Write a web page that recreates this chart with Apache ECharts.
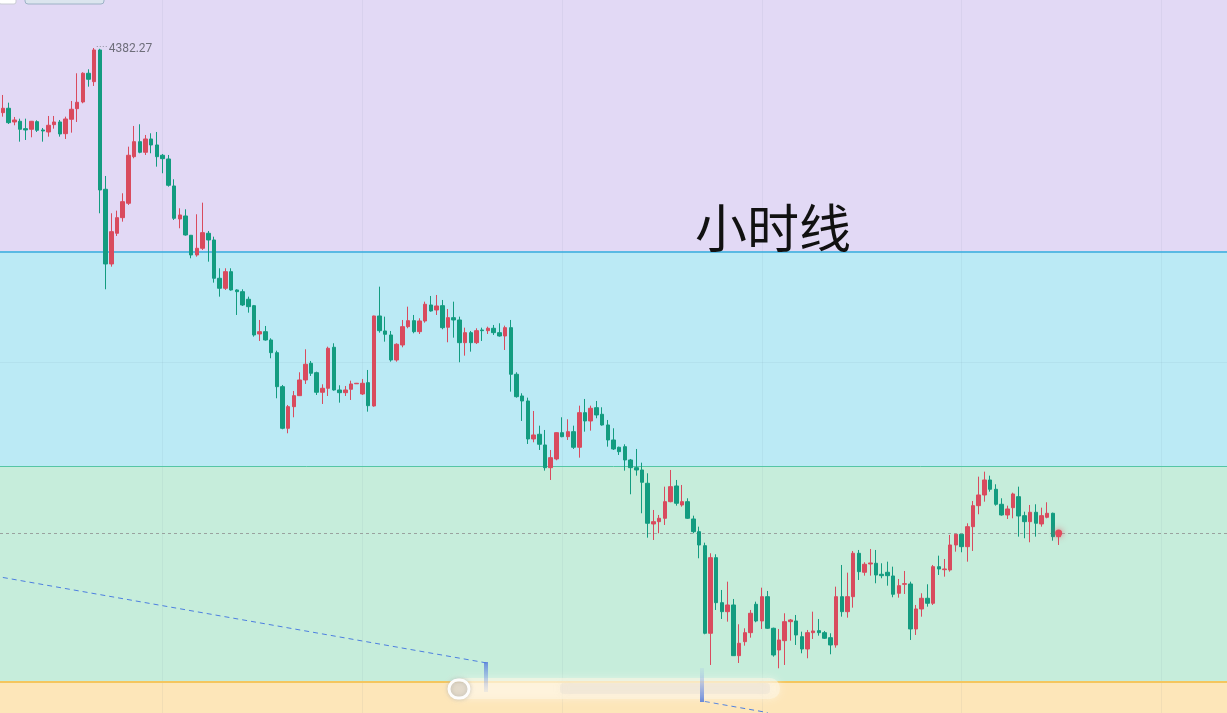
<!DOCTYPE html>
<html><head><meta charset="utf-8">
<script src="https://cdn.jsdelivr.net/npm/echarts@6/dist/echarts.min.js"></script>
<style>html,body{margin:0;padding:0;background:#fff;overflow:hidden}#c{width:1227px;height:713px}</style>
</head><body><div id="c"></div><script>
// Hourly candles
const opens = [4317.6,4322.0,4308.3,4309.0,4301.6,4301.0,4308.6,4300.3,4298.3,4305.6,4308.3,4296.6,4311.0,4321.6,4328.3,4357.0,4348.6,4380.3,4241.0,4166.3,
4197.0,4212.6,4227.0,4273.6,4288.6,4278.0,4291.3,4285.3,4275.0,4271.3,4244.3,4211.3,4214.3,4195.0,4175.3,4182.0,4197.0,4190.3,4152.0,4142.0,
4158.6,4140.3,4138.6,4131.0,4124.6,4096.3,4098.6,4090.3,4077.6,4043.6,4002.0,4023.6,4034.6,4050.3,4067.0,4057.6,4038.0,4042.0,4083.0,4040.3,
4037.6,4041.0,4046.5,4036.3,4047.6,4024.3,4114.3,4099.3,4095.3,4070.3,4085.3,4103.6,4109.6,4098.6,4109.3,4125.3,4120.3,4124.6,4103.0,4112.6,
4110.3,4087.6,4097.6,4087.6,4100.3,4099.6,4102.0,4097.6,4094.3,4102.6,4056.0,4034.3,4029.3,3991.3,3996.0,3985.3,3962.6,3971.3,3997.6,3993.6,
3998.6,3983.0,4017.6,4009.3,4022.6,4016.0,4005.3,3990.3,3983.0,3983.6,3970.3,3962.6,3960.3,3947.0,3906.3,3908.6,3912.0,3928.6,3944.3,3925.3,
3928.6,3911.3,3898.6,3884.6,3797.0,3872.6,3827.6,3818.6,3825.3,3774.6,3788.6,3797.6,3826.0,3809.3,3833.6,3802.0,3780.3,3789.6,3808.6,3809.3,
3793.6,3781.3,3797.6,3799.6,3797.6,3792.6,3785.3,3833.6,3818.6,3833.6,3877.0,3858.0,3866.3,3867.0,3856.0,3858.0,3854.3,3837.0,3846.0,3846.3,
3801.3,3821.3,3832.0,3827.0,3863.6,3860.6,3860.3,3885.3,3896.0,3883.6,3903.6,3924.6,3935.3,3950.3,3941.0,3926.0,3915.3,3922.6,3933.6,3914.6,
3908.6,3918.0,3906.3,3913.0,3917.0,3893.6];
const closes = [4322.0,4307.6,4310.3,4301.0,4300.3,4309.0,4300.0,4299.3,4305.0,4308.3,4296.3,4311.3,4321.0,4328.0,4357.0,4351.0,4380.3,4240.3,4166.3,4198.6,
4212.6,4228.6,4275.0,4288.6,4278.0,4291.3,4285.3,4273.6,4271.6,4245.0,4212.0,4215.3,4195.3,4175.3,4182.0,4197.6,4190.3,4152.0,4142.0,4158.6,
4140.3,4138.6,4125.3,4123.6,4095.3,4098.6,4090.3,4077.6,4043.6,4002.0,4023.6,4034.6,4050.3,4066.0,4057.0,4038.0,4042.0,4082.0,4040.3,4037.6,
4040.3,4046.3,4047.0,4047.0,4024.6,4114.3,4099.6,4096.0,4070.3,4086.0,4103.6,4109.6,4098.6,4109.3,4126.0,4119.3,4124.3,4102.6,4112.6,4110.3,
4087.6,4097.6,4087.6,4099.6,4099.6,4102.0,4097.6,4094.3,4102.6,4056.0,4033.6,4029.3,3991.3,3995.3,3986.0,3962.6,3972.6,3997.6,3993.6,3998.6,
3983.0,4017.6,4009.3,4022.0,4015.3,4005.3,3990.3,3981.3,3978.6,3970.3,3962.6,3960.3,3948.0,3907.0,3908.6,3912.0,3928.6,3943.6,3927.0,3928.6,
3912.0,3898.6,3885.3,3797.0,3872.6,3827.6,3818.6,3825.3,3774.6,3787.0,3797.6,3817.0,3809.3,3833.6,3802.0,3775.3,3790.3,3808.6,3810.3,3795.3,
3781.3,3797.6,3799.3,3797.6,3792.0,3785.3,3833.6,3818.6,3833.6,3877.0,3858.6,3866.0,3867.3,3855.3,3854.6,3854.6,3836.0,3844.6,3846.6,3801.3,
3821.3,3832.0,3827.0,3863.6,3861.3,3861.3,3885.3,3896.0,3883.6,3903.6,3924.6,3935.3,3950.3,3941.0,3926.0,3915.3,3921.3,3936.3,3914.3,3908.6,
3918.0,3907.0,3914.6,3917.0,3893.6,3897.3];
const lows = [4313.6,4306.3,4305.0,4288.6,4290.3,4293.0,4298.3,4288.6,4293.6,4301.6,4293.6,4291.3,4297.6,4308.3,4327.0,4343.6,4344.3,4217.0,4141.0,4163.6,
4194.3,4208.6,4225.3,4272.0,4277.0,4275.3,4277.0,4263.6,4257.0,4243.6,4210.3,4202.0,4194.6,4172.0,4173.6,4180.3,4168.6,4147.6,4133.6,4140.3,
4139.6,4115.3,4124.3,4117.6,4093.6,4089.3,4089.6,4072.0,4032.0,4001.0,3997.0,4013.0,4034.3,4046.3,4054.3,4035.3,4026.3,4034.3,4039.6,4027.6,
4034.3,4030.3,4046.3,4035.3,4018.6,4023.6,4097.6,4088.6,4068.6,4068.6,4083.0,4102.0,4097.0,4096.3,4107.6,4118.6,4115.3,4101.0,4088.0,4092.6,
4068.0,4074.6,4078.6,4086.3,4089.3,4096.3,4095.3,4093.6,4080.3,4038.6,4032.6,4009.3,3986.3,3988.0,3980.3,3959.6,3950.3,3970.0,3993.0,3990.3,
3981.3,3972.6,3998.6,3999.6,4012.0,4004.6,3983.6,3980.3,3975.3,3959.6,3936.0,3954.6,3917.0,3892.6,3890.3,3897.0,3905.3,3928.0,3924.6,3923.6,
3911.3,3897.0,3872.0,3796.0,3765.3,3820.3,3811.3,3808.6,3774.3,3767.3,3784.6,3792.6,3808.0,3801.3,3801.3,3773.6,3762.0,3765.3,3789.6,3785.3,
3777.0,3772.0,3791.3,3794.6,3791.3,3776.0,3782.6,3813.6,3812.6,3822.6,3850.3,3854.6,3854.6,3847.0,3852.0,3844.6,3833.0,3832.6,3836.3,3790.3,
3795.3,3813.6,3823.6,3825.3,3855.3,3853.6,3858.6,3878.6,3878.0,3868.6,3879.3,3916.0,3928.6,3938.6,3924.6,3914.6,3911.3,3912.0,3893.6,3892.0,
3888.0,3893.6,3903.6,3912.0,3889.6,3885.3];
const highs = [4335.3,4327.6,4313.3,4311.6,4311.6,4309.3,4310.0,4302.3,4314.3,4314.3,4310.3,4313.6,4329.3,4357.0,4358.0,4361.0,4382.27,4381.5,4254.3,4217.0,
4219.6,4237.0,4283.6,4304.3,4306.0,4295.3,4297.0,4298.3,4276.3,4275.3,4251.0,4222.0,4221.0,4195.3,4216.0,4227.6,4199.3,4193.6,4162.0,4162.0,
4162.0,4141.0,4141.0,4133.6,4125.3,4110.3,4104.3,4092.0,4079.6,4045.3,4025.3,4039.3,4058.0,4081.0,4069.3,4058.6,4046.0,4083.6,4087.0,4045.0,
4044.3,4049.6,4047.3,4051.3,4060.3,4114.6,4143.6,4113.6,4099.3,4087.0,4110.3,4123.6,4115.3,4112.0,4128.6,4134.3,4135.3,4130.3,4121.3,4128.6,
4113.6,4102.6,4099.3,4102.0,4102.6,4103.6,4105.3,4107.0,4104.6,4110.3,4058.0,4037.0,4032.6,4019.3,4004.6,4000.3,3980.3,3998.0,4013.0,4011.0,
4004.6,4024.6,4031.3,4024.6,4029.3,4023.0,4010.3,4002.0,3983.6,3986.0,3971.3,3981.3,3967.6,3957.0,3920.3,3915.3,3943.6,3960.3,3950.3,3945.3,
3932.0,3914.6,3903.6,3887.6,3877.0,3876.0,3840.3,3848.6,3831.3,3806.0,3802.0,3820.3,3828.6,3842.6,3839.3,3802.6,3801.3,3817.0,3811.3,3815.3,
3798.6,3800.3,3818.6,3811.3,3799.3,3797.0,3843.6,3865.3,3857.6,3879.3,3880.3,3868.0,3881.3,3880.3,3867.0,3868.6,3863.6,3851.3,3859.3,3848.6,
3825.3,3837.0,3846.0,3865.3,3874.6,3871.3,3895.3,3896.3,3896.0,3907.0,3929.3,3953.6,3958.6,3954.6,3946.0,3932.0,3924.6,3937.6,3943.6,3918.6,
3925.3,3926.0,3922.6,3928.0,3917.6,3899.3];

// Slots on the time axis (data plus empty space on the right)
const slotCount = 215;
const categories = Array.from({length: slotCount}, (_, i) => 'H' + (i + 1));
const timeTickIdx = [28, 63, 98, 133, 168, 203];

// Value range and coloured zones
const priceMin = 3717.27, priceMax = 4430.27;
const bandEdges = [4430.27, 4179.27, 3964.27, 3748.27, 3717.27];
const bandColors = ['#e2d9f5', '#bbeaf5', '#c6eddb', '#fde6b9'];
const edgeLineLevels = [4178.77, 3963.77, 3748.27];
const edgeLineColors = ['#3aa9dc', '#55c6a5', '#f4c65e'];
const edgeLineWidths = [1.6, 1, 2];
const faintLevel = 4068.27;

const highIndex = 16, highValue = 4382.27;
// drawn trend line: two visible pieces (the middle is hidden by the blurred bar)
const trendLeftIdx = [0, 85], trendLeftVal = [3852.8, 3767.1];
const trendRightIdx = [123, 134], trendRightVal = [3728.8, 3717.7];

const UP = '#d94b5e', DOWN = '#139c80';

const candles = opens.map((o, i) => [o, closes[i], lows[i], highs[i]]);
const lastIdx = closes.length - 1, lastClose = closes[lastIdx];

const chart = echarts.init(document.getElementById('c'), null, {renderer: 'canvas'});
const bandAreas = bandColors.map((c, i) => [
  {yAxis: bandEdges[i], itemStyle: {color: c, opacity: 1}},
  {yAxis: bandEdges[i + 1]}
]);
const gridLines = [{yAxis: faintLevel}].concat(timeTickIdx.map(i => ({xAxis: i})));

// each zone border gets its own series so its colour cannot be mixed up
const edgeSeries = edgeLineColors.map((c, i) => ({
  type: 'line', data: [], z: 5, silent: true,
  markLine: {silent: true, z: 9, symbol: ['none', 'none'], label: {show: false},
    lineStyle: {color: c, width: edgeLineWidths[i], type: 'solid', opacity: 1},
    data: [{yAxis: edgeLineLevels[i]}]}
}));

chart.setOption({
  animation: false,
  backgroundColor: '#ffffff',
  grid: {left: 0, right: 0, top: 0, bottom: 0},
  xAxis: {type: 'category', data: categories, show: false, boundaryGap: true},
  yAxis: {type: 'value', min: priceMin, max: priceMax, show: false},
  series: [
    {
      type: 'line', data: [], z: 1, silent: true,
      markArea: {silent: true, z: 1, data: bandAreas}
    },
    {
      type: 'line', data: [], z: 2, silent: true,
      markLine: {silent: true, z: 8, symbol: ['none', 'none'], label: {show: false},
        lineStyle: {color: 'rgba(90,110,140,0.07)', width: 1, type: 'solid'},
        data: gridLines}
    }
  ].concat(edgeSeries).concat([
    {
      type: 'line', data: trendLeftIdx.map((x, i) => [x, trendLeftVal[i]]), z: 4, silent: true,
      showSymbol: false, symbol: 'none',
      lineStyle: {color: '#4d7fe0', width: 1, type: [5, 4]}
    },
    {
      type: 'line', data: trendRightIdx.map((x, i) => [x, trendRightVal[i]]), z: 4, silent: true,
      showSymbol: false, symbol: 'none',
      lineStyle: {color: '#4d7fe0', width: 1, type: [5, 4]}
    },
    {
      type: 'candlestick', data: candles, z: 10, barWidth: 4,
      itemStyle: {color: UP, color0: DOWN, borderColor: UP, borderColor0: DOWN, borderWidth: 1},
      markLine: {
        silent: true, z: 9, symbol: ['none', 'none'], label: {show: false},
        data: [{yAxis: lastClose}],
        lineStyle: {color: '#9aa29f', width: 1, type: [3, 3]}
      },
      markPoint: {
        silent: true, z: 12,
        data: [
          {coord: [highIndex, highValue], symbol: 'circle', symbolSize: 1,
           itemStyle: {color: 'rgba(0,0,0,0)'},
           label: {show: true, position: 'right', distance: 1, offset: [0, 1],
             formatter: '{d|····}{v|' + highValue.toFixed(2) + '}',
             rich: {d: {fontSize: 9, color: '#8a8a96', padding: [0, 1, 5, 0]},
                    v: {fontSize: 12, color: '#6e6e7a', fontFamily: 'Roboto, sans-serif'}}}},
          {coord: [lastIdx, lastClose], symbol: 'circle', symbolSize: 7,
           itemStyle: {color: '#e24a5c', shadowBlur: 6, shadowColor: 'rgba(226,74,92,0.8)'},
           label: {show: false}}
        ]
      }
    }
  ]),
  graphic: [
    {type: 'text', x: 773, y: 228, z: 50,
     style: {text: '小时线', font: '52px "Noto Sans CJK SC"', fill: '#111111', align: 'center', verticalAlign: 'middle'}},
    {type: 'rect', z: 60, shape: {x: 450, y: 678, width: 330, height: 21, r: 10},
     style: {fill: 'rgba(253,246,228,0.55)', shadowBlur: 10, shadowColor: 'rgba(255,250,240,0.9)'}},
    {type: 'rect', z: 61, shape: {x: 560, y: 683, width: 210, height: 11, r: 4},
     style: {fill: 'rgba(215,210,205,0.22)', shadowBlur: 8, shadowColor: 'rgba(200,200,200,0.5)'}},
    {type: 'rect', z: 61, shape: {x: 449, y: 680, width: 20, height: 18, r: 9},
     style: {fill: 'rgba(215,205,195,0.35)', stroke: 'rgba(255,255,255,0.95)', lineWidth: 3, shadowBlur: 4, shadowColor: 'rgba(160,160,160,0.6)'}},
    {type: 'rect', z: 62, shape: {x: 484, y: 662, width: 4, height: 30},
     style: {fill: new echarts.graphic.LinearGradient(0, 0, 0, 1, [{offset: 0, color: 'rgba(80,120,220,0.8)'}, {offset: 1, color: 'rgba(150,175,235,0.15)'}])}},
    {type: 'rect', z: 62, shape: {x: 700, y: 668, width: 4, height: 34},
     style: {fill: new echarts.graphic.LinearGradient(0, 0, 0, 1, [{offset: 0, color: 'rgba(150,175,235,0.15)'}, {offset: 1, color: 'rgba(80,120,220,0.85)'}])}},
    {type: 'rect', z: 62, shape: {x: 25, y: -8, width: 79, height: 12, r: 3},
     style: {fill: '#dbe5ee', stroke: '#9db2c6', lineWidth: 1}},
    {type: 'rect', z: 62, shape: {x: -1, y: -6, width: 17, height: 10, r: 2},
     style: {fill: '#ffffff', stroke: '#c9ccd3', lineWidth: 1}}
  ]
});
</script></body></html>
